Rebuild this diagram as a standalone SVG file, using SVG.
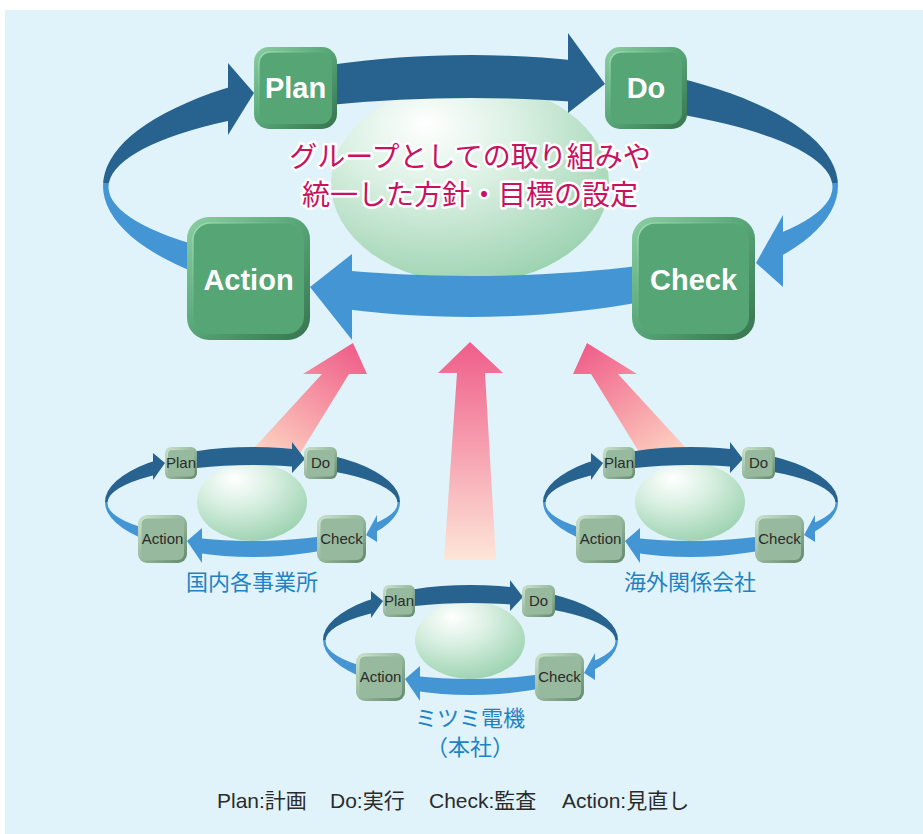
<svg xmlns="http://www.w3.org/2000/svg" width="923" height="834" viewBox="0 0 923 834">
<style>
.bigt{font-family:"Liberation Sans",Arial,sans-serif;font-weight:bold;font-size:29px;fill:#fff;text-anchor:middle}
.smt{font-family:"Liberation Sans",Arial,sans-serif;font-size:15px;fill:#2b2b2b;text-anchor:middle}
.lbl{font-family:"Noto Sans CJK JP",sans-serif;font-size:22px;fill:#1f82c5;text-anchor:middle}
.jp{font-family:"Noto Sans CJK JP",sans-serif;font-size:28px;font-weight:400;fill:#c8125f;stroke:#fff;stroke-width:5px;stroke-linejoin:round;paint-order:stroke;text-anchor:middle}
.leg{font-family:"Liberation Sans","Noto Sans CJK JP",sans-serif;font-size:21px;fill:#2b2b2b}
.dk{fill:#27638e}.lt{fill:#4396d3}
.bbo{fill:url(#gBigB)}.bbi{fill:#55a575;stroke:url(#gBigH);stroke-width:1.5}
.sbo{fill:url(#gSmB)}.sbi{fill:#97ba9e;stroke:url(#gSmH);stroke-width:1}
</style>
<defs>
<linearGradient id="gBigRing" gradientUnits="userSpaceOnUse" x1="0" y1="50" x2="0" y2="330"><stop offset="0.475" stop-color="#27638e"/><stop offset="0.475" stop-color="#4396d3"/></linearGradient>
<linearGradient id="gSmRing" gradientUnits="userSpaceOnUse" x1="0" y1="440" x2="0" y2="570"><stop offset="0.477" stop-color="#27638e"/><stop offset="0.477" stop-color="#4396d3"/></linearGradient>
<linearGradient id="gBigB" x1="0" y1="0" x2="1" y2="1"><stop offset="0" stop-color="#8ccfa3"/><stop offset="0.45" stop-color="#5aa97a"/><stop offset="1" stop-color="#37744f"/></linearGradient>
<linearGradient id="gBigH" x1="0" y1="0" x2="1" y2="1"><stop offset="0" stop-color="#a4e0b9"/><stop offset="0.6" stop-color="#55a575" stop-opacity="0"/></linearGradient>
<linearGradient id="gSmB" x1="0" y1="0" x2="1" y2="1"><stop offset="0" stop-color="#cbe2cd"/><stop offset="0.45" stop-color="#9bbda1"/><stop offset="1" stop-color="#62876a"/></linearGradient>
<linearGradient id="gSmH" x1="0" y1="0" x2="1" y2="1"><stop offset="0" stop-color="#d6ebd8"/><stop offset="0.6" stop-color="#97ba9e" stop-opacity="0"/></linearGradient>
<radialGradient id="gEll" cx="0.38" cy="0.28" r="0.75" fx="0.34" fy="0.2"><stop offset="0" stop-color="#ffffff"/><stop offset="0.4" stop-color="#dcf1e4"/><stop offset="1" stop-color="#9dd3b1"/></radialGradient>
<linearGradient id="gPinkL" gradientUnits="userSpaceOnUse" x1="353" y1="343" x2="268" y2="460"><stop offset="0" stop-color="#ef5d89"/><stop offset="1" stop-color="#fdd5c2"/></linearGradient>
<linearGradient id="gPinkR" gradientUnits="userSpaceOnUse" x1="587" y1="343" x2="672" y2="460"><stop offset="0" stop-color="#ef5d89"/><stop offset="1" stop-color="#fdd5c2"/></linearGradient>
<linearGradient id="gPinkC" gradientUnits="userSpaceOnUse" x1="470" y1="342" x2="470" y2="560"><stop offset="0" stop-color="#ef5d89"/><stop offset="1" stop-color="#fde6d8"/></linearGradient>
<mask id="mBig" maskUnits="userSpaceOnUse" x="0" y="0" width="923" height="834">
<rect width="923" height="834" fill="#fff"/>
<rect x="568" y="0" width="42" height="183" fill="#000"/>
<rect x="228" y="0" width="27" height="183" fill="#000"/>
<rect x="755" y="183" width="28" height="200" fill="#000"/>
<rect x="308" y="183" width="44" height="200" fill="#000"/>
</mask>
<mask id="mSm" maskUnits="userSpaceOnUse" x="0" y="0" width="923" height="834">
<rect width="923" height="834" fill="#fff"/>
<rect x="292" y="0" width="13" height="502" fill="#000"/>
<rect x="153" y="0" width="12" height="502" fill="#000"/>
<rect x="366" y="502" width="11" height="100" fill="#000"/>
<rect x="186" y="502" width="16" height="100" fill="#000"/>
</mask>
<g id="smallRing">
<path d="M105,502 a147.5,55 0 1,0 295,0 a147.5,55 0 1,0 -295,0Z M107.5,503 a145,38 0 1,0 290,0 a145,38 0 1,0 -290,0Z" fill="url(#gSmRing)" fill-rule="evenodd" mask="url(#mSm)"/>
<polygon class="dk" points="292,442 305,459 292,473"/>
<polygon class="dk" points="153,453 165,463 153,480"/>
<polygon class="lt" points="377,515 366,535 377,542"/>
<polygon class="lt" points="202,528 187,541 202,563"/>
</g>
</defs>

<rect id="bg" x="5" y="10" width="918" height="824" fill="#e0f3fa"/>

<g id="connectors">
<polygon fill="url(#gPinkL)" points="353,343 367,374 349,374 296,460 243,460 322,374 303,374"/>
<polygon fill="url(#gPinkR)" points="587,343 637,374 618,374 697,460 644,460 591,374 573,374"/>
<polygon fill="url(#gPinkC)" points="470,342 503,373 485,373 496,560 444,560 457,373 438,373"/>
</g>

<ellipse id="centerBall" cx="470" cy="183" rx="139" ry="100" fill="url(#gEll)"/>

<g id="bigRing">
<path d="M103,186 a367.5,131 0 1,0 735,0 a367.5,131 0 1,0 -735,0Z M108.5,187 a362,89 0 1,0 724,0 a362,89 0 1,0 -724,0Z" fill="url(#gBigRing)" fill-rule="evenodd" mask="url(#mBig)"/>
<polygon class="dk" points="568,33 605,84 568,113"/>
<polygon class="dk" points="228,63 254,93 228,135"/>
<polygon class="lt" points="783,215 756,263 783,287"/>
<polygon class="lt" points="352,254 310,287 352,340"/>
</g>

<g id="plan">
<rect class="bbo" x="254" y="47" width="83" height="82" rx="15"/>
<rect class="bbi" x="259" y="52" width="73" height="72" rx="11"/>
<text class="bigt" x="295.5" y="98">Plan</text>
</g>
<g id="do">
<rect class="bbo" x="605" y="47" width="82" height="82" rx="15"/>
<rect class="bbi" x="610" y="52" width="72" height="72" rx="11"/>
<text class="bigt" x="646" y="98">Do</text>
</g>
<g id="action">
<rect class="bbo" x="187" y="217" width="123" height="123" rx="22"/>
<rect class="bbi" x="193" y="223" width="111" height="111" rx="17"/>
<text class="bigt" x="248.5" y="290">Action</text>
</g>
<g id="check">
<rect class="bbo" x="632" y="217" width="123" height="123" rx="22"/>
<rect class="bbi" x="638" y="223" width="111" height="111" rx="17"/>
<text class="bigt" x="693.5" y="290">Check</text>
</g>

<g id="goal">
<text class="jp" x="470" y="167">グループとしての取り組みや</text>
<text class="jp" x="470" y="205">統一した方針・目標の設定</text>
</g>

<g id="domestic">
<ellipse cx="252" cy="502" rx="55" ry="39" fill="url(#gEll)"/>
<use href="#smallRing"/>
<rect class="sbo" x="165" y="447" width="32" height="32" rx="6"/><rect class="sbi" x="167.5" y="449.5" width="27" height="27" rx="4"/>
<rect class="sbo" x="304" y="447" width="33" height="32" rx="6"/><rect class="sbi" x="306.5" y="449.5" width="28" height="27" rx="4"/>
<rect class="sbo" x="138" y="515" width="49" height="48" rx="9"/><rect class="sbi" x="141" y="518" width="43" height="42" rx="6"/>
<rect class="sbo" x="317" y="515" width="49" height="48" rx="9"/><rect class="sbi" x="320" y="518" width="43" height="42" rx="6"/>
<text class="smt" x="181" y="468">Plan</text>
<text class="smt" x="320.5" y="468">Do</text>
<text class="smt" x="162.5" y="544">Action</text>
<text class="smt" x="341.5" y="544">Check</text>
<text class="lbl" x="252" y="590">国内各事業所</text>
</g>

<g id="hq" transform="translate(218,138)">
<ellipse cx="252" cy="502" rx="55" ry="39" fill="url(#gEll)"/>
<use href="#smallRing"/>
<rect class="sbo" x="165" y="447" width="32" height="32" rx="6"/><rect class="sbi" x="167.5" y="449.5" width="27" height="27" rx="4"/>
<rect class="sbo" x="304" y="447" width="33" height="32" rx="6"/><rect class="sbi" x="306.5" y="449.5" width="28" height="27" rx="4"/>
<rect class="sbo" x="138" y="515" width="49" height="48" rx="9"/><rect class="sbi" x="141" y="518" width="43" height="42" rx="6"/>
<rect class="sbo" x="317" y="515" width="49" height="48" rx="9"/><rect class="sbi" x="320" y="518" width="43" height="42" rx="6"/>
<text class="smt" x="181" y="468">Plan</text>
<text class="smt" x="320.5" y="468">Do</text>
<text class="smt" x="162.5" y="544">Action</text>
<text class="smt" x="341.5" y="544">Check</text>
<text class="lbl" x="252" y="588">ミツミ電機</text>
<text class="lbl" x="252" y="617">（本社）</text>
</g>

<g id="overseas" transform="translate(438,0)">
<ellipse cx="252" cy="502" rx="55" ry="39" fill="url(#gEll)"/>
<use href="#smallRing"/>
<rect class="sbo" x="165" y="447" width="32" height="32" rx="6"/><rect class="sbi" x="167.5" y="449.5" width="27" height="27" rx="4"/>
<rect class="sbo" x="304" y="447" width="33" height="32" rx="6"/><rect class="sbi" x="306.5" y="449.5" width="28" height="27" rx="4"/>
<rect class="sbo" x="138" y="515" width="49" height="48" rx="9"/><rect class="sbi" x="141" y="518" width="43" height="42" rx="6"/>
<rect class="sbo" x="317" y="515" width="49" height="48" rx="9"/><rect class="sbi" x="320" y="518" width="43" height="42" rx="6"/>
<text class="smt" x="181" y="468">Plan</text>
<text class="smt" x="320.5" y="468">Do</text>
<text class="smt" x="162.5" y="544">Action</text>
<text class="smt" x="341.5" y="544">Check</text>
<text class="lbl" x="252" y="590">海外関係会社</text>
</g>

<g id="legend">
<text class="leg" x="217" y="808">Plan:計画</text>
<text class="leg" x="330" y="808">Do:実行</text>
<text class="leg" x="429" y="808">Check:監査</text>
<text class="leg" x="562" y="808">Action:見直し</text>
</g>
</svg>
